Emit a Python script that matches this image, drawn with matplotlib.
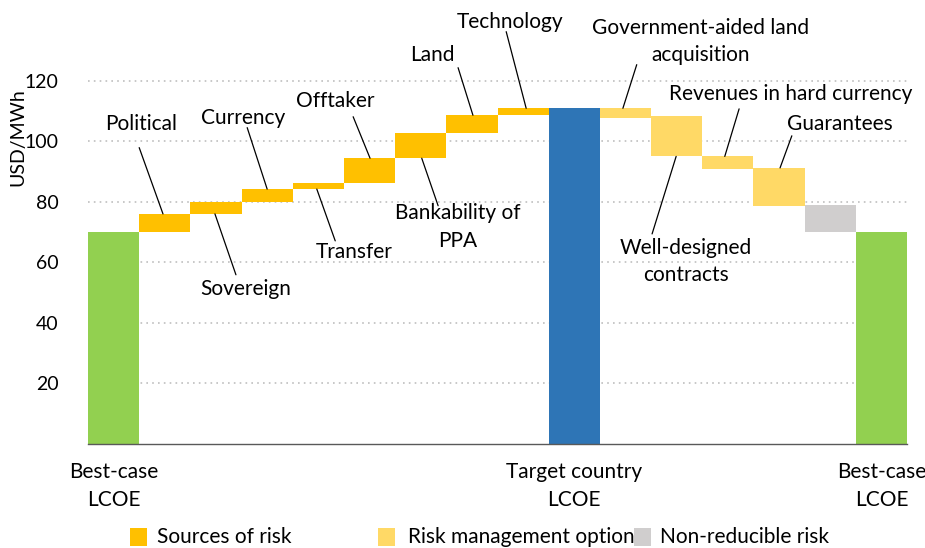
import matplotlib
matplotlib.use("Agg")
import matplotlib.pyplot as plt
from matplotlib.patches import Rectangle
from matplotlib.transforms import Bbox

plt.rcParams['font.family'] = ['Lato', 'DejaVu Sans']

# ---- data ----
categories = ['Best-case LCOE', 'Political', 'Sovereign', 'Currency', 'Transfer', 'Offtaker',
              'Bankability of\nPPA', 'Land', 'Technology', 'Target country LCOE',
              'Government-aided land\nacquisition', 'Well-designed\ncontracts',
              'Revenues in hard currency', 'Guarantees', 'Non-reducible risk', 'Best-case LCOE']
bar_low = [0, 70, 76, 80, 84.2, 86.2, 94.4, 102.6, 108.6, 0,
           107.8, 95.0, 90.9, 78.6, 70, 0]
bar_high = [70, 76, 80, 84.2, 86.2, 94.4, 102.6, 108.6, 110.9, 110.9,
            110.9, 108.3, 95.0, 91.2, 78.9, 70]
kinds = ['base', 'risk', 'risk', 'risk', 'risk', 'risk', 'risk', 'risk', 'risk', 'target',
         'mgmt', 'mgmt', 'mgmt', 'mgmt', 'nonred', 'base']
y_ticks = [20, 40, 60, 80, 100, 120]
x_tick_labels = {0: 'Best-case\nLCOE', 9: 'Target country\nLCOE', 15: 'Best-case\nLCOE'}
legend_labels = ['Sources of risk', 'Risk management options', 'Non-reducible risk']

colors = {'base': '#92D050', 'risk': '#FFC000', 'target': '#2E75B6',
          'mgmt': '#FFD966', 'nonred': '#D0CECE'}

FS = 15
W, H = 925, 548
fig = plt.figure(figsize=(W / 100, H / 100), dpi=100)
ax_left, ax_right, ax_bottom, ax_top = 88, 907, 444, 2
ax = fig.add_axes([ax_left / W, 1 - ax_bottom / H, (ax_right - ax_left) / W, (ax_bottom - ax_top) / H])

xs = list(range(len(categories)))
ax.bar(xs, [h - l for l, h in zip(bar_low, bar_high)], bottom=bar_low, width=1.0,
       color=[colors[k] for k in kinds], zorder=3, linewidth=0)

ax.set_xlim(-0.5, len(categories) - 0.5)
ax.set_ylim(0, 146)
for sp in ['left', 'right', 'top']:
    ax.spines[sp].set_visible(False)
ax.spines['bottom'].set_color('#595959')
ax.spines['bottom'].set_linewidth(1.0)
ax.spines['bottom'].set_zorder(4)

ax.set_yticks(y_ticks)
ax.set_yticklabels([str(v) for v in y_ticks], fontsize=14)
ax.tick_params(axis='y', length=0, pad=21)
for v in y_ticks:
    ax.axhline(v, color='#BFBFBF', linestyle=(0, (1, 2.5)), linewidth=1.2, zorder=1)

ax.set_xticks(list(x_tick_labels.keys()))
ax.set_xticklabels(list(x_tick_labels.values()), fontsize=FS, linespacing=1.5)
ax.tick_params(axis='x', length=0, pad=13)

fig.text(18 / W, 1 - 137 / H, 'USD/MWh', rotation=90, fontsize=14, ha='center', va='center')

# annotations: (bar index, text centre, line start, x offset of line end, end at bar 'high' or 'low')
ann = [
    (1, (0.535, 105.8), (0.50, 97.9), -0.035, 'high'),
    (2, (2.586, 51.2), (2.39, 55.9), -0.02, 'low'),
    (3, (2.53, 107.8), (2.61, 104.5), 0.0, 'high'),
    (4, (4.70, 63.5), (4.33, 67.1), -0.03, 'low'),
    (5, (4.33, 113.4), (4.68, 108.1), 0.01, 'high'),
    (6, (6.73, 71.7), (6.34, 78.7), 0.02, 'low'),
    (7, (6.22, 128.6), (6.73, 124.3), 0.02, 'high'),
    (8, (7.74, 139.5), (7.67, 136.2), 0.06, 'high'),
    (10, (11.47, 132.9), (10.22, 125.3), -0.05, 'high'),
    (11, (11.18, 60.2), (10.52, 69.4), -0.01, 'low'),
    (12, (13.23, 115.7), (12.22, 110.7), -0.06, 'high'),
    (13, (14.19, 105.8), (13.25, 101.8), 0.02, 'high'),
]
for i, tpos, lstart, dx, end in ann:
    yv = bar_high[i] if end == 'high' else bar_low[i]
    ax.text(tpos[0], tpos[1], categories[i], fontsize=FS, ha='center', va='center',
            linespacing=1.45, zorder=5)
    ax.annotate('', xy=(i + dx, yv), xytext=lstart,
                arrowprops=dict(arrowstyle='-', color='black', lw=0.9, shrinkA=0, shrinkB=0),
                zorder=5)

# ---- legend (manual) ----
leg_items = [(130, 157, 'risk'), (378, 408, 'mgmt'), (634, 660, 'nonred')]
for (sx, tx, k), lab in zip(leg_items, legend_labels):
    fig.patches.append(Rectangle((sx / W, 1 - 546 / H), 17 / W, 18 / H, transform=fig.transFigure,
                                 facecolor=colors[k], edgecolor='none', zorder=5))
    t = fig.text(tx / W, 1 - 537 / H, lab, fontsize=FS, ha='left', va='center', zorder=4)
    if k == 'mgmt':
        t.set_clip_box(Bbox.from_extents(0, 0, 636, H))
        t.set_clip_on(True)

fig.savefig('out.png', dpi=100)
